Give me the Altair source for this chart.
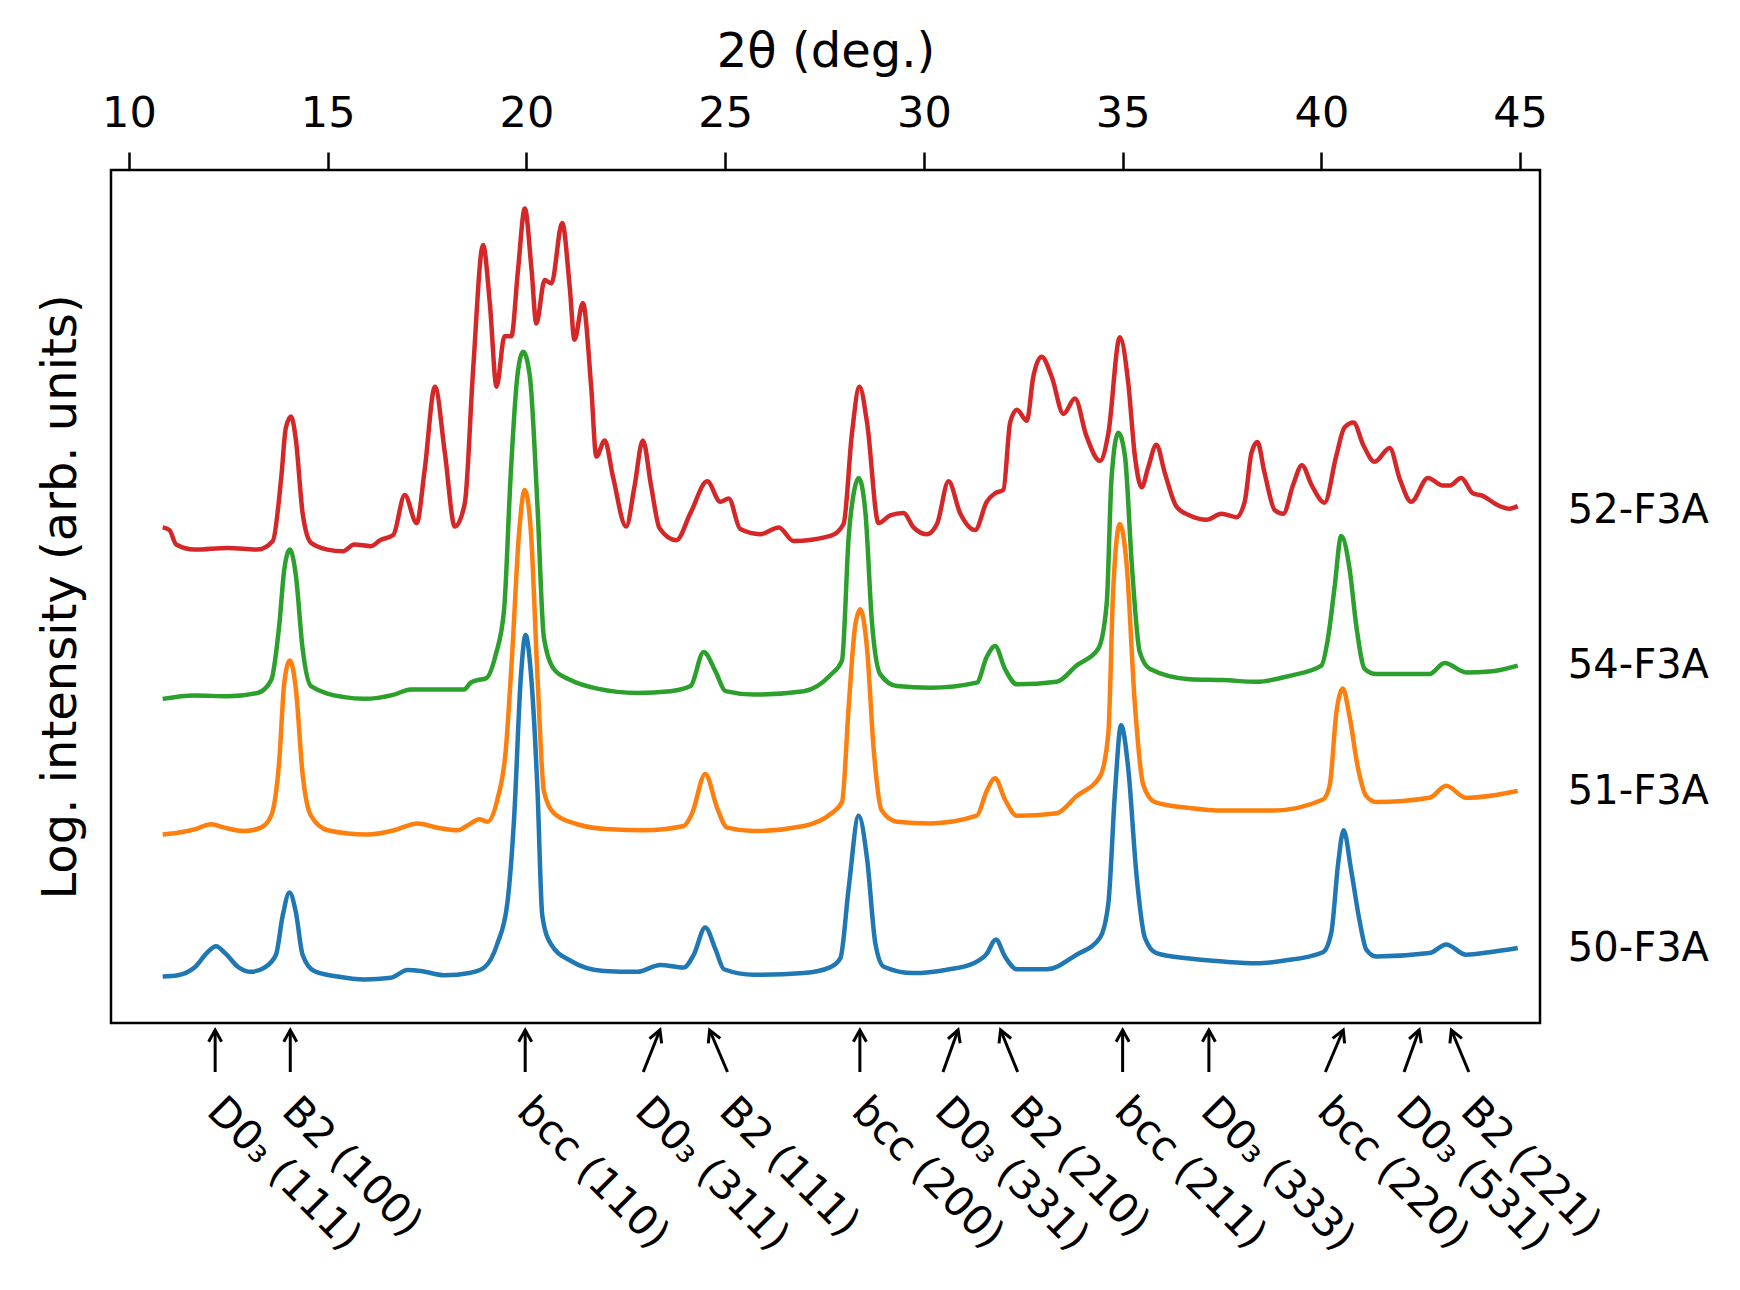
import math
import altair as alt
import pandas as pd

# ---------------- data ----------------
samples = ["52-F3A", "54-F3A", "51-F3A", "50-F3A"]
colors = ["#d62728", "#2ca02c", "#ff7f0e", "#1f77b4"]

red_x = [10.85, 11.02, 11.19, 11.65, 12.49, 13.24, 13.62, 13.83, 13.95, 14.08, 14.20, 14.37, 14.58, 15.00,
         15.38, 15.67, 16.09, 16.32, 16.65, 16.94, 17.24, 17.44, 17.70, 17.95, 18.20, 18.45, 18.66, 18.91,
         19.08, 19.25, 19.45, 19.62, 19.79, 19.96, 20.13, 20.25, 20.46, 20.63, 20.90, 21.09, 21.21, 21.42,
         21.63, 21.76, 21.97, 22.18, 22.51, 22.72, 22.93, 23.14, 23.35, 23.77, 24.13, 24.55, 24.88, 25.09,
         25.38, 25.89, 26.35, 26.72, 27.65, 27.98, 28.19, 28.38, 28.57, 28.86, 29.15, 29.49, 29.74, 30.07,
         30.33, 30.62, 30.91, 31.29, 31.58, 31.79, 32.00, 32.17, 32.34, 32.59, 32.75, 32.96, 33.22, 33.51,
         33.80, 34.09, 34.43, 34.64, 34.93, 35.14, 35.31, 35.48, 35.64, 35.85, 36.06, 36.36, 36.69, 37.11,
         37.49, 37.86, 38.07, 38.24, 38.39, 38.57, 38.83, 39.04, 39.29, 39.51, 39.75, 40.08, 40.37, 40.58,
         40.81, 41.05, 41.34, 41.72, 41.97, 42.26, 42.68, 43.06, 43.22, 43.52, 43.81, 44.06, 44.40, 44.73,
         44.94]
red_y = [58.1, 57.8, 56.1, 55.5, 55.7, 55.5, 56.5, 63.8, 69.8, 71.1, 68.4, 59.8, 56.3, 55.5,
         55.3, 56.1, 55.9, 56.6, 57.2, 61.9, 58.6, 64.8, 74.6, 66.8, 58.2, 60.9, 76.6, 91.2,
         84.4, 74.6, 80.5, 80.5, 88.3, 95.5, 88.3, 82.0, 87.1, 86.7, 93.8, 86.3, 80.1, 84.4,
         74.6, 66.4, 68.3, 64.0, 58.2, 62.9, 68.3, 62.9, 58.0, 56.6, 59.8, 63.5, 61.1, 61.5,
         57.9, 57.3, 58.1, 56.5, 57.1, 58.5, 69.1, 74.6, 70.4, 58.6, 59.5, 59.8, 58.1, 57.3,
         58.5, 63.5, 59.8, 57.8, 61.1, 62.1, 62.5, 70.4, 71.9, 70.6, 75.7, 78.1, 75.7, 71.4,
         73.2, 68.8, 65.9, 69.1, 80.4, 75.1, 66.4, 62.8, 65.1, 67.8, 64.5, 60.5, 59.5, 59.0,
         59.7, 59.3, 61.1, 66.8, 68.1, 64.5, 60.1, 59.7, 63.1, 65.4, 63.1, 61.0, 66.4, 69.8,
         70.4, 67.8, 65.8, 67.4, 63.8, 61.1, 63.9, 63.0, 63.0, 63.9, 62.1, 61.8, 60.8, 60.3,
         60.6]

green_x = [10.85, 11.65, 12.49, 13.24, 13.58, 13.78, 13.91, 14.05, 14.20, 14.37, 14.58, 15.42, 15.92, 16.67,
           17.09, 17.93, 18.43, 18.60, 18.77, 18.98, 19.23, 19.44, 19.60, 19.77, 19.92, 20.09, 20.28, 20.44,
           20.69, 21.11, 21.78, 22.79, 23.63, 24.13, 24.46, 24.76, 25.01, 25.72, 26.98, 27.65, 27.94, 28.11,
           28.25, 28.36, 28.53, 28.69, 28.90, 29.32, 30.16, 31.33, 31.58, 31.79, 32.04, 32.34, 33.34, 33.84,
           34.39, 34.60, 34.72, 34.89, 35.06, 35.23, 35.43, 35.69, 36.69, 37.53, 38.37, 39.20, 40.00, 40.17,
           40.33, 40.50, 40.71, 40.88, 41.09, 41.38, 42.72, 43.10, 43.64, 44.23, 44.94]
green_y = [38.0, 38.4, 38.3, 38.7, 40.2, 46.5, 53.2, 55.5, 52.5, 43.9, 39.5, 38.2, 38.0, 38.5,
           39.1, 39.1, 39.1, 39.9, 40.2, 40.4, 43.2, 48.5, 63.8, 75.7, 78.7, 75.7, 60.5, 45.2,
           41.5, 40.2, 39.2, 38.7, 38.9, 39.5, 43.5, 41.2, 38.9, 38.5, 38.9, 40.8, 42.5, 57.1,
           62.5, 63.9, 59.8, 47.2, 40.9, 39.5, 39.3, 39.9, 42.9, 44.2, 41.5, 39.7, 40.0, 41.9,
           43.9, 49.2, 63.8, 69.2, 66.4, 53.8, 43.5, 41.5, 40.3, 40.2, 40.0, 40.7, 41.9, 45.2,
           51.0, 57.1, 53.2, 46.5, 41.5, 40.9, 40.9, 42.2, 41.1, 41.2, 41.9]

orange_x = [10.85, 11.23, 11.65, 12.07, 12.40, 12.90, 13.32, 13.58, 13.78, 13.91, 14.05, 14.20, 14.37, 14.58,
            15.00, 16.00, 16.67, 17.26, 17.76, 18.27, 18.60, 18.81, 19.02, 19.27, 19.48, 19.65, 19.81, 19.96,
            20.11, 20.28, 20.44, 20.69, 21.28, 22.12, 22.95, 23.96, 24.17, 24.50, 24.80, 25.05, 25.72, 26.98,
            27.65, 27.94, 28.11, 28.27, 28.40, 28.57, 28.74, 28.94, 29.32, 30.16, 31.33, 31.58, 31.79, 32.04,
            32.34, 33.34, 33.84, 34.43, 34.64, 34.76, 34.93, 35.10, 35.31, 35.52, 35.81, 36.69, 37.53, 38.78,
            40.04, 40.21, 40.38, 40.54, 40.71, 40.92, 41.13, 41.38, 42.72, 43.14, 43.64, 44.94]
orange_y = [22.1, 22.3, 22.7, 23.3, 22.9, 22.5, 22.9, 24.3, 30.6, 39.9, 42.5, 39.2, 29.2, 24.3,
            22.6, 22.1, 22.6, 23.4, 22.9, 22.6, 23.4, 23.9, 23.6, 26.2, 31.9, 43.9, 57.1, 62.5,
            57.8, 40.5, 27.2, 24.6, 23.3, 22.7, 22.6, 23.1, 24.6, 29.2, 25.2, 22.9, 22.5, 23.1,
            24.5, 25.9, 37.2, 46.5, 48.5, 43.9, 31.9, 24.9, 23.6, 23.4, 24.3, 27.2, 28.7, 26.2,
            24.3, 24.6, 26.6, 28.9, 33.9, 50.5, 58.5, 53.8, 37.2, 27.9, 25.9, 25.2, 24.9, 24.9,
            26.2, 27.9, 36.5, 39.2, 35.9, 29.9, 26.6, 25.9, 26.4, 27.8, 26.4, 27.2]

blue_x = [10.85, 11.23, 11.65, 11.98, 12.19, 12.44, 12.74, 13.07, 13.41, 13.70, 13.87, 14.04, 14.20, 14.37,
          14.66, 15.25, 15.92, 16.59, 17.01, 17.34, 17.93, 18.60, 18.94, 19.27, 19.52, 19.69, 19.86, 19.98,
          20.11, 20.28, 20.40, 20.61, 21.11, 21.95, 22.79, 23.37, 23.96, 24.21, 24.50, 24.76, 24.97, 25.72,
          26.98, 27.65, 27.90, 28.11, 28.36, 28.57, 28.78, 28.99, 29.74, 30.58, 31.25, 31.58, 31.81, 32.04,
          32.34, 33.09, 33.84, 34.43, 34.64, 34.81, 34.96, 35.14, 35.35, 35.56, 35.85, 36.69, 37.53, 38.37,
          39.04, 40.04, 40.25, 40.42, 40.56, 40.75, 40.96, 41.13, 41.38, 42.72, 43.14, 43.64, 44.23, 44.94]
blue_y = [5.45, 5.6, 6.5, 8.3, 9.0, 8.1, 6.6, 6.0, 6.5, 8.0, 12.6, 15.3, 13.0, 8.0,
          6.1, 5.45, 5.1, 5.3, 6.2, 6.1, 5.6, 5.9, 6.5, 9.3, 14.0, 23.9, 40.5, 45.5,
          41.2, 27.2, 12.6, 9.3, 7.3, 6.1, 6.0, 6.8, 6.5, 8.0, 11.2, 8.6, 6.3, 5.65,
          5.85, 6.55, 7.6, 15.9, 24.3, 19.3, 9.3, 6.6, 5.85, 6.25, 7.0, 8.1, 9.8, 7.8,
          6.3, 6.3, 8.0, 10.0, 14.0, 27.2, 34.9, 29.9, 17.3, 10.0, 8.2, 7.55, 7.2, 7.0,
          7.3, 8.3, 10.6, 18.6, 22.6, 17.9, 12.0, 8.6, 7.8, 8.2, 9.2, 8.0, 8.3, 8.8]

# sample labels on the right (x in 2theta units, y in plot units)
label_x = [46.2, 46.2, 46.2, 46.2]
label_y = [60.0, 41.8, 27.1, 8.7]

# reflection markers below the axis
peak_names = ["D0\u2083 (111)", "B2 (100)", "bcc (110)", "D0\u2083 (311)", "B2 (111)", "bcc (200)",
              "D0\u2083 (331)", "B2 (210)", "bcc (211)", "D0\u2083 (333)", "bcc (220)", "D0\u2083 (531)",
              "B2 (221)"]
peak_tip = [12.17, 14.06, 19.97, 23.36, 24.61, 28.39, 30.86, 31.93, 35.00, 37.17, 40.55, 42.46, 43.27]
peak_tail = [12.17, 14.06, 19.97, 22.94, 25.06, 28.39, 30.48, 32.36, 35.00, 37.17, 40.10, 42.08, 43.71]

x_ticks = [10, 15, 20, 25, 30, 35, 40, 45]

# ---------------- layout ----------------
W, H = 1429, 853
X_DOMAIN = [9.55, 45.5]
ARROW_TOP, ARROW_BOT = H + 7, H + 49
TEXT_Y = H + 55
FONT = "DejaVu Sans"

px_per_deg = W / (X_DOMAIN[1] - X_DOMAIN[0])

xscale = alt.Scale(domain=X_DOMAIN, nice=False, zero=False)
yscale = alt.Scale(domain=[0, 100], nice=False, zero=False)

x_axis = alt.Axis(orient="top", values=x_ticks, title="2θ (deg.)", grid=False, domain=False,
                  tickSize=18, tickWidth=2.5, tickColor="black", labelFontSize=43, labelFont=FONT,
                  labelColor="black", labelPadding=17, labelFlush=False, titleFontSize=48,
                  titleFont=FONT, titleFontWeight="normal", titleColor="black", titlePadding=16,
                  format="d")
y_axis = alt.Axis(title="Log. intensity (arb. units)", labels=False, ticks=False, domain=False,
                  grid=False, titleFontSize=48, titleFont=FONT, titleFontWeight="normal",
                  titleColor="black", titlePadding=26)

series = [(samples[0], colors[0], red_x, red_y),
          (samples[1], colors[1], green_x, green_y),
          (samples[2], colors[2], orange_x, orange_y),
          (samples[3], colors[3], blue_x, blue_y)]

layers = []
for name, col, xs, ys in series:
    d = pd.DataFrame({"two_theta": xs, "intensity": ys, "sample": name})
    layers.append(
        alt.Chart(d).mark_line(color=col, strokeWidth=4.5, interpolate="monotone").encode(
            x=alt.X("two_theta:Q", scale=xscale, axis=x_axis),
            y=alt.Y("intensity:Q", scale=yscale, axis=y_axis),
        )
    )

lab_df = pd.DataFrame({"sample": samples, "lx": label_x, "ly": label_y})
labels = alt.Chart(lab_df).mark_text(align="left", baseline="middle", fontSize=40, font=FONT,
                                     color="black").encode(
    x=alt.X("lx:Q", scale=xscale, axis=x_axis),
    y=alt.Y("ly:Q", scale=yscale, axis=y_axis),
    text="sample:N",
)

angles = []
for t, s in zip(peak_tip, peak_tail):
    a = math.degrees(math.atan2((t - s) * px_per_deg, ARROW_BOT - ARROW_TOP))
    angles.append(a % 360)
ann_df = pd.DataFrame({"name": peak_names, "tip": peak_tip, "tail": peak_tail, "ang": angles})

shafts = alt.Chart(ann_df).mark_rule(color="black", strokeWidth=3).encode(
    x=alt.X("tip:Q", scale=xscale, axis=x_axis),
    x2="tail:Q",
    y=alt.value(ARROW_TOP),
    y2=alt.value(ARROW_BOT),
)
heads = alt.Chart(ann_df).mark_point(shape="M -0.55 1 L 0 0 L 0.55 1", filled=False, color="black",
                                     strokeWidth=3, size=560, opacity=1).encode(
    x=alt.X("tip:Q", scale=xscale, axis=x_axis),
    y=alt.value(ARROW_TOP),
    angle=alt.Angle("ang:Q", scale=None),
)
ann_text = alt.Chart(ann_df).mark_text(angle=45, align="left", baseline="top", fontSize=41, font=FONT,
                                       color="black", dx=18).encode(
    x=alt.X("tail:Q", scale=xscale, axis=x_axis),
    y=alt.value(TEXT_Y),
    text="name:N",
)

chart = alt.layer(*layers, labels, shafts, heads, ann_text).properties(
    width=W, height=H,
    autosize=alt.AutoSizeParams(type="none"),
    padding={"left": 103, "top": 162, "right": 190, "bottom": 255},
).configure(background="white").configure_view(stroke="black", strokeWidth=2.5)

chart.save("out.html", embed_options={"renderer": "svg", "actions": False})
